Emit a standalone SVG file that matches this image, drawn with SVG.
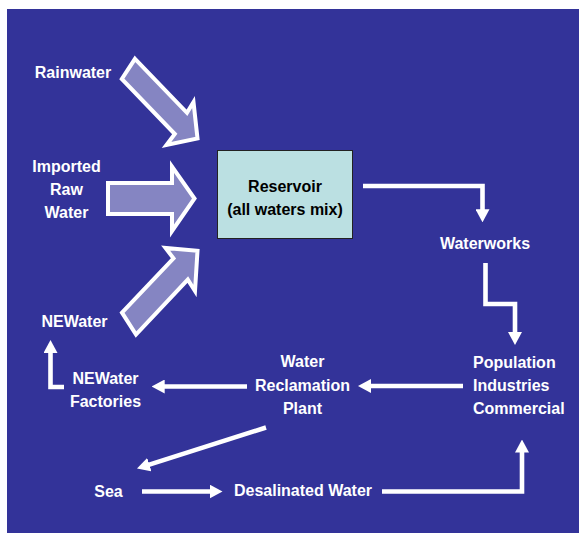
<svg xmlns="http://www.w3.org/2000/svg" width="579" height="533" viewBox="0 0 579 533">
<style>
.lbl{font-family:"Liberation Sans",Arial,sans-serif;font-weight:bold;font-size:16px;fill:#ffffff;text-anchor:middle}
.lft{text-anchor:start}
.dark{fill:#000000}
.big{fill:#8585C2;stroke:#ffffff;stroke-width:4;stroke-linejoin:miter}
.con{fill:none;stroke:#ffffff;stroke-width:4.6;stroke-linejoin:miter;marker-end:url(#ah)}
</style>
<defs>
<marker id="ah" viewBox="0 0 13 14" markerWidth="13" markerHeight="14" markerUnits="userSpaceOnUse" refX="5" refY="7" orient="auto">
<path d="M0,0 L13,7 L0,14 z" fill="#ffffff"/>
</marker>
</defs>
<rect x="7" y="9" width="572" height="524" fill="#333399"/>

<g id="rainwater">
<polygon class="big" points="135,58.8 187,112.8 193.5,102 197.5,138.5 166.5,145 174.8,134 121.8,79"/>
<text class="lbl" x="73" y="77.5">Rainwater</text>
</g>
<g id="imported">
<polygon class="big" points="108,183 172,183 172,166.5 194.5,198.5 172,231 172,214 108,214"/>
<text class="lbl" x="66.5" y="171.5">Imported</text>
<text class="lbl" x="66.5" y="194.5">Raw</text>
<text class="lbl" x="66.5" y="217.5">Water</text>
</g>
<g id="newater">
<polygon class="big" points="122,312.7 173.5,258.3 165.5,248 197.5,250.8 195,291 187.8,279.6 136,334.5"/>
<text class="lbl" x="74.5" y="326.5">NEWater</text>
</g>
<g id="reservoir">
<rect x="217.5" y="150.5" width="135" height="88" fill="#BBE0E2" stroke="#222222" stroke-width="1"/>
<text class="lbl dark" x="285" y="191.5">Reservoir</text>
<text class="lbl dark" x="285" y="214.5">(all waters mix)</text>
</g>
<g id="waterworks">
<text class="lbl" x="485" y="249">Waterworks</text>
</g>
<g id="population">
<text class="lbl lft" x="473" y="367.5">Population</text>
<text class="lbl lft" x="473" y="390.5">Industries</text>
<text class="lbl lft" x="473" y="413.5">Commercial</text>
</g>
<g id="reclamation">
<text class="lbl" x="302.5" y="367">Water</text>
<text class="lbl" x="302.5" y="390.5">Reclamation</text>
<text class="lbl" x="302.5" y="414">Plant</text>
</g>
<g id="factories">
<text class="lbl" x="105.5" y="384">NEWater</text>
<text class="lbl" x="105.5" y="407">Factories</text>
</g>
<g id="sea">
<text class="lbl" x="108.5" y="496.5">Sea</text>
</g>
<g id="desal">
<text class="lbl" x="303" y="496">Desalinated Water</text>
</g>

<g id="connectors">
<path class="con" d="M363,186 H482.5 V214.3"/>
<path class="con" d="M485.5,263 V304 H515 V337"/>
<path class="con" d="M463,386 H366"/>
<path class="con" d="M247,386.5 H159.7"/>
<path class="con" d="M64,387 H50.5 V348"/>
<path class="con" d="M266,427.5 L144.6,466.1"/>
<path class="con" d="M142,491.5 H214.5"/>
<path class="con" d="M382,491.5 H522 V447.5"/>
</g>
</svg>
